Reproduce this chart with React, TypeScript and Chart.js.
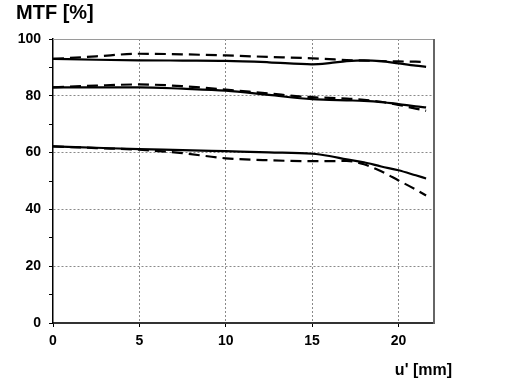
import React, { useEffect, useRef } from "react";
import { Chart, registerables } from "chart.js";

Chart.register(...registerables);

const xPositions = [0, 2.5, 5, 7.5, 10, 12.5, 15, 16, 17, 18, 19, 20, 21, 21.6];

const topSolid = [93.0, 92.7, 92.5, 92.4, 92.3, 91.8, 91.1, 91.5, 92.2, 92.5, 92.2, 91.4, 90.6, 90.2];
const topDashed = [93.0, 93.9, 94.8, 94.6, 94.2, 93.7, 93.2, 92.9, 92.6, 92.4, 92.2, 92.1, 92.0, 91.9];
const midSolid = [83.0, 83.0, 83.0, 82.5, 81.8, 80.3, 78.8, 78.6, 78.4, 78.2, 77.8, 77.1, 76.3, 75.9];
const midDashed = [83.0, 83.6, 84.0, 83.4, 82.2, 80.8, 79.5, 79.3, 79.0, 78.6, 77.9, 76.8, 75.5, 74.7];
const lowSolid = [62.2, 61.7, 61.2, 60.9, 60.5, 60.1, 59.6, 58.8, 57.6, 56.6, 55.1, 53.8, 52.0, 50.9];
const lowDashed = [62.2, 61.6, 61.0, 59.8, 58.0, 57.3, 57.0, 57.0, 57.1, 55.9, 53.4, 50.2, 47.0, 44.9];

const xTickValues = [0, 5, 10, 15, 20];
const yTickValues = [0, 10, 20, 30, 40, 50, 60, 70, 80, 90, 100];
const yLabelValues = [0, 20, 40, 60, 80, 100];

const titleText = "MTF [%]";
const xAxisText = "u' [mm]";

const FONT = "'Liberation Sans', Arial, sans-serif";

function toPoints(ys: number[]) {
  return ys.map((y, i) => ({ x: xPositions[i], y }));
}

const framePlugin = {
  id: "frameAndLabel",
  afterDraw(chart: any) {
    const { ctx, chartArea } = chart;
    ctx.save();
    ctx.strokeStyle = "#9a9a9a";
    ctx.lineWidth = 1;
    ctx.beginPath();
    ctx.moveTo(chartArea.left, chartArea.top + 0.5);
    ctx.lineTo(chartArea.right, chartArea.top + 0.5);
    ctx.stroke();
    ctx.strokeStyle = "#666";
    ctx.lineWidth = 2;
    ctx.beginPath();
    ctx.moveTo(chartArea.right + 1, chartArea.top);
    ctx.lineTo(chartArea.right + 1, chartArea.bottom + 1);
    ctx.stroke();
    ctx.fillStyle = "#000";
    ctx.font = `bold 16px ${FONT}`;
    ctx.textAlign = "right";
    ctx.textBaseline = "alphabetic";
    ctx.fillText(xAxisText, chartArea.right + 19, 375);
    ctx.restore();
  },
};

export default function App() {
  const ref = useRef<HTMLCanvasElement>(null);

  useEffect(() => {
    if (!ref.current) return;
    const solid = (data: number[]) => ({
      data: toPoints(data),
      borderColor: "#000",
      borderWidth: 2.2,
      pointRadius: 0,
      fill: false,
      cubicInterpolationMode: "monotone" as const,
    });
    const dashed = (data: number[]) => ({
      ...solid(data),
      borderDash: [11, 6],
    });
    const chart = new Chart(ref.current, {
      type: "line",
      data: {
        datasets: [
          solid(topSolid),
          dashed(topDashed),
          solid(midSolid),
          dashed(midDashed),
          solid(lowSolid),
          dashed(lowDashed),
        ],
      },
      options: {
        responsive: false,
        animation: false,
        layout: { padding: { left: 16, right: 79, top: 0, bottom: 0 } },
        plugins: {
          legend: { display: false },
          tooltip: { enabled: false },
          title: {
            display: true,
            text: titleText,
            align: "start",
            color: "#000",
            font: { family: FONT, size: 20, weight: "bold", lineHeight: 1.2 },
            padding: { top: 1.5, bottom: 13.5 },
          },
        },
        scales: {
          x: {
            type: "linear",
            min: 0,
            max: 22,
            afterBuildTicks: (scale: any) => {
              scale.ticks = xTickValues.map((v) => ({ value: v }));
            },
            afterFit: (scale: any) => {
              scale.height = 61;
            },
            ticks: {
              color: "#000",
              padding: 6,
              font: { family: FONT, size: 14, weight: "bold" },
              maxRotation: 0,
            },
            grid: {
              color: (c: any) => (c.tick && c.tick.value !== 0 ? "#8a8a8a" : "rgba(0,0,0,0)"),
              tickColor: "#000",
              tickLength: 4,
              lineWidth: 1,
              tickBorderDash: [],
            } as any,
            border: { color: "#333", width: 2, dash: [2, 2] },
          },
          y: {
            type: "linear",
            min: 0,
            max: 100,
            afterBuildTicks: (scale: any) => {
              scale.ticks = yTickValues.map((v) => ({ value: v }));
            },
            afterFit: (scale: any) => {
              scale.width = 37;
            },
            ticks: {
              color: "#000",
              padding: 8,
              font: { family: FONT, size: 14, weight: "bold" },
              callback: (v: any) => (yLabelValues.includes(Number(v)) ? String(v) : ""),
            },
            grid: {
              color: (c: any) =>
                c.tick && c.tick.value % 20 === 0 && c.tick.value !== 0 && c.tick.value !== 100
                  ? "#8a8a8a"
                  : "rgba(0,0,0,0)",
              tickColor: "#000",
              tickLength: 4,
              lineWidth: 1,
              tickBorderDash: [],
            } as any,
            border: { color: "#000", width: 1.5, dash: [2, 2] },
          },
        },
      },
      plugins: [framePlugin],
    });
    return () => chart.destroy();
  }, []);

  return (
    <div style={{ position: "absolute", left: 0, top: 0, width: 512, height: 384, background: "#fff" }}>
      <canvas ref={ref} width={512} height={384} style={{ display: "block" }} />
    </div>
  );
}
